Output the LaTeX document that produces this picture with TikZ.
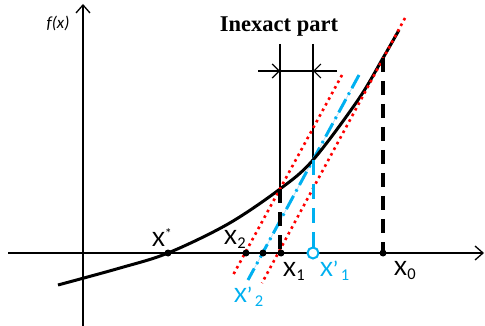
\documentclass[tikz,border=0pt]{standalone}
\usepackage{fontspec}
\setmainfont{Carlito}
\newfontfamily\serifb{Liberation Serif}
\usetikzlibrary{arrows.meta}
\definecolor{skyb}{HTML}{00B0F0}
\definecolor{lightb}{HTML}{B4E2F7}
\newcommand\subx[1]{\kern0.5pt\raisebox{-4.5pt}{\fontsize{16.5}{16.5}\selectfont #1}}
\newcommand\bigX{\scalebox{1.12}[1]{X}}
\begin{document}
\begin{tikzpicture}[x=1pt,y=-1pt,
  axis/.style={line width=1.3pt,-{Straight Barb[length=8pt,width=14pt,line width=1.3pt]}},
  curve/.style={line width=3pt},
  thinl/.style={line width=1.2pt},
  reddot/.style={red,line width=2.6pt,dash pattern=on 2.6pt off 3.8pt},
  bluedd/.style={skyb,line width=3pt,dash pattern=on 15pt off 5pt on 2.5pt off 5pt},
  bluedash/.style={skyb,line width=3pt,dash pattern=on 15pt off 9pt},
  blackdash/.style={line width=3.5pt,dash pattern=on 14pt off 9pt},
  dimarrow/.style={thinl,-{Straight Barb[length=7pt,width=14pt,line width=1.2pt]}},
  dot/.style={circle,fill=black,inner sep=0pt,minimum size=7pt},
  lbl/.style={font=\fontsize{22}{22}\selectfont,inner sep=0pt,anchor=base west}]
\useasboundingbox (0,0) rectangle (485,326);
% axes
\coordinate (xl) at (8,253); \coordinate (xr) at (484,253);
\coordinate (yb) at (83,326); \coordinate (yt) at (83,4);
\draw[axis] (xl) -- (xr);
\draw[axis] (yb) -- (yt);
% key points
\coordinate (P1) at (280,189);
\coordinate (Q1) at (313,160);
\coordinate (P0) at (383,58);
\coordinate (A1) at (280,253);
\coordinate (B1) at (313,253);
\coordinate (A0) at (383,253);
% inexact-part verticals and dimension
\coordinate (T1) at (280,44); \coordinate (T2) at (313,44);
\coordinate (DL) at (258,71); \coordinate (DR) at (337,71);
\coordinate (D1) at (280,71); \coordinate (D2) at (313,71);
\draw[thinl] (T1) -- (P1);
\draw[thinl] (T2) -- (Q1);
\draw[thinl] (DL) -- (DR);
\draw[dimarrow] (DL) -- (D1);
\draw[dimarrow] (DR) -- (D2);
% tangent-like lines
\coordinate (R1a) at (405,18); \coordinate (R1b) at (262,283);
\coordinate (R2a) at (342,75); \coordinate (R2b) at (232,277);
\coordinate (Ba) at (359,75); \coordinate (Bb) at (248,280);
\draw[lightb,line width=0.8pt] (Ba) -- (Bb);
\draw[bluedd] (Ba) -- (Bb);
% curve
\draw[curve] plot[smooth,tension=0.55] coordinates {(58,285) (120,268) (168,253) (228,224) (280,189) (313,160) (358,100) (383,58) (399,30)};
\draw[reddot] (R1a) -- (R1b);
\draw[reddot] (R2a) -- (R2b);
% vertical dashed
\draw[blackdash] (P0) -- (A0);
\draw[blackdash] (P1) -- (A1);
\coordinate (Qc) at (313,247);
\draw[bluedash] (Q1) -- (Qc);
% points on axis
\node[dot] (xs) at (168,253) {};
\node[dot] (x2) at (246,253) {};
\node[dot] (xp2) at (263,253) {};
\node[dot] (x1) at (281,253) {};
\node[dot] (x0) at (383,253) {};
\node[circle,draw=skyb,line width=2pt,fill=white,inner sep=0pt,minimum size=11pt] (xp1) at (B1) {};
% labels
\node[lbl] (lxs) at (152,246) {\bigX\raisebox{8pt}{\fontsize{14}{14}\selectfont *}};
\node[lbl] (lx2) at (224,244) {\bigX\subx{2}};
\node[lbl] (lx1) at (283,276) {\bigX\subx{1}};
\node[lbl] (lx0) at (394,275) {\bigX\subx{0}};
\node[lbl,text=skyb] (lxp1) at (320,276) {\bigX’\kern2pt\subx{1}};
\node[lbl,text=skyb] (lxp2) at (234,302) {\bigX’\kern2pt\subx{2}};
\node[font=\fontsize{17}{17}\selectfont\itshape,inner sep=0pt] (fx) at (58,23) {f(x)};
\node[font=\serifb\bfseries\fontsize{22.5}{22.5}\selectfont,inner sep=0pt,anchor=base] (title) at (279,32) {Inexact part};
\end{tikzpicture}
\end{document}
